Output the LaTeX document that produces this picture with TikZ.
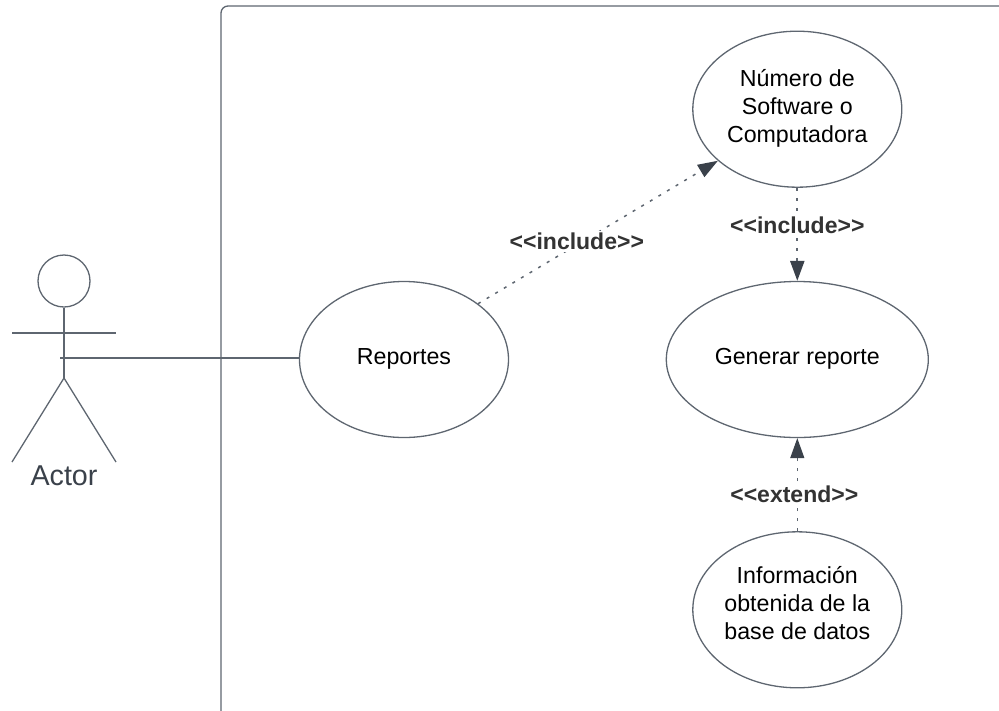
\documentclass[tikz,border=0pt]{standalone}
\usepackage{fontspec}
\setmainfont{Liberation Sans}
\usepackage{tikz}
\usetikzlibrary{positioning,shapes.geometric,arrows.meta}
\definecolor{linegray}{HTML}{5E6670}
\definecolor{tipdark}{HTML}{3A414A}
\definecolor{labelgray}{HTML}{333333}

\begin{document}
\begin{tikzpicture}[x=1pt,y=-1pt,
        every node/.style = {font=\fontsize{23.2}{28.3}\selectfont},
        usecase/.style = {draw=linegray, line width=1.3pt, ellipse, inner sep=-20pt, align=center, text=black, minimum width=209pt, minimum height=156pt, text depth=0pt},
        oneline/.style = {usecase, text height=9pt},
        dep/.style = {draw=linegray, line width=1.5pt, dash pattern=on 3pt off 7pt, -{Triangle[length=20pt,width=14pt,color=tipdark]}},
        deplabel/.style = {fill=white, inner sep=2pt, text=labelgray, font=\fontsize{23}{26}\selectfont\bfseries},
        plainline/.style = {draw=linegray, line width=1.3pt}]
        \useasboundingbox (0,0) rectangle (999,710);

        \draw[plainline, rounded corners=7pt] (221,711) -- (221,6) -- (1000,6);

        \node(reportes)[oneline] at (404,359.5) {Reportes};
        \node(generar)[oneline, minimum width=262pt, right = 156.5pt of reportes] {Generar reporte};
        \node(numero)[usecase, text height=67pt, above = 93pt of generar] {Número de\\Software o\\Computadora};
        \node(info)[usecase, text height=60pt, below = 93pt of generar] {Información\\obtenida de la\\base de datos};

        \node(head)[circle, plainline, minimum size=52pt, inner sep=0pt] at (64,281) {};
        \coordinate(hip) at (64,378);
        \coordinate(armleft) at (12,333);
        \coordinate(armright) at (116,333);
        \coordinate(footleft) at (12,462);
        \coordinate(footright) at (116,462);
        \coordinate(hand) at (60,358);
        \node(actor)[text=tipdark, font=\fontsize{28.7}{30}\selectfont, inner sep=0pt] at (64,476) {Actor};
        \draw[plainline] (head) -- (hip);
        \draw[plainline] (armleft) -- (armright);
        \draw[plainline] (footleft) -- (hip) -- (footright);
        \draw[plainline] (hand) -- (hand -| reportes.west);

        \draw[dep] (reportes.37.6) -- node(inclone)[deplabel, pos=0.42, xshift=-2pt, yshift=2.5pt]{{<}{<}include{>}{>}} (numero.213.4);
        \draw[dep, line width=2.3pt] (numero) -- node(incltwo)[deplabel, pos=0.4]{{<}{<}include{>}{>}} (generar);
        \draw[dep, line width=1.2pt] (info) -- node(extendlabel)[deplabel, pos=0.4, xshift=-3pt]{{<}{<}extend{>}{>}} (generar);
    \end{tikzpicture}
\end{document}
